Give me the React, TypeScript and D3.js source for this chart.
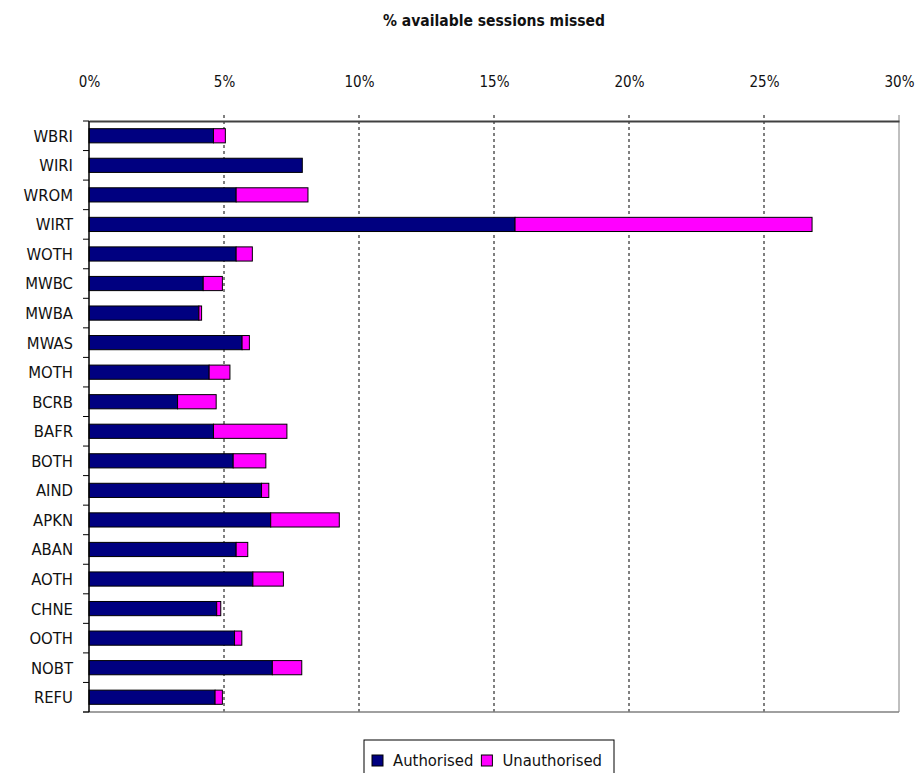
import React, { useEffect, useRef } from 'react';
import * as d3 from 'd3';

// ethnic group codes, top to bottom
const categories = [
  'WBRI', 'WIRI', 'WROM', 'WIRT', 'WOTH', 'MWBC', 'MWBA', 'MWAS', 'MOTH', 'BCRB',
  'BAFR', 'BOTH', 'AIND', 'APKN', 'ABAN', 'AOTH', 'CHNE', 'OOTH', 'NOBT', 'REFU',
];

// % of sessions missed
const authorised = [
  4.61, 7.9, 5.45, 15.78, 5.45, 4.23, 4.07, 5.67, 4.45, 3.28,
  4.61, 5.34, 6.39, 6.73, 5.45, 6.07, 4.73, 5.39, 6.79, 4.67,
];
const unauthorised = [
  0.44, 0.0, 2.66, 11.0, 0.6, 0.71, 0.1, 0.27, 0.77, 1.43,
  2.72, 1.21, 0.27, 2.54, 0.43, 1.13, 0.15, 0.27, 1.09, 0.27,
];

const xTicks = [0, 5, 10, 15, 20, 25, 30];
const seriesNames = ['Authorised', 'Unauthorised'];
const seriesColors = ['#000080', '#ff00ff'];

const W = 918;
const H = 773;
const margin = { top: 121, right: 19, bottom: 61, left: 89 };
const FONT = '"DejaVu Sans Condensed", "DejaVu Sans", sans-serif';

export default function App() {
  const svgRef = useRef<SVGSVGElement | null>(null);

  useEffect(() => {
    const svg = d3.select(svgRef.current);
    svg.selectAll('*').remove();

    const x = d3.scaleLinear().domain([0, 30]).range([margin.left, W - margin.right]);
    const y = d3.scaleBand().domain(categories).range([margin.top, H - margin.bottom]).paddingInner(0.52).paddingOuter(0.26);

    const rows = categories.map((c, i) => ({ c, a: authorised[i], u: unauthorised[i] }));
    const stack = d3.stack<any>().keys(['a', 'u'])(rows);

    svg.append('rect').attr('width', W).attr('height', H).attr('fill', '#fff');

    // title
    svg.append('text')
      .attr('x', (x(0) + x(30)) / 2).attr('y', 26)
      .attr('text-anchor', 'middle')
      .attr('font-family', FONT).attr('font-stretch', 'condensed')
      .attr('font-weight', 'bold').attr('font-size', 15.5)
      .attr('fill', '#111')
      .text('% available sessions missed');

    // vertical gridlines (poke a little above the axis)
    svg.append('g').selectAll('line')
      .data(xTicks.filter(t => t > 0 && t < 30))
      .join('line')
      .attr('x1', d => x(d)).attr('x2', d => x(d))
      .attr('y1', margin.top - 6).attr('y2', H - margin.bottom)
      .attr('stroke', '#000').attr('stroke-width', 1).attr('stroke-dasharray', '3,3');

    // right and bottom frame
    svg.append('line')
      .attr('x1', x(30)).attr('x2', x(30)).attr('y1', margin.top - 6).attr('y2', H - margin.bottom)
      .attr('stroke', '#808080');
    svg.append('line')
      .attr('x1', x(0) - 6).attr('x2', x(30)).attr('y1', H - margin.bottom).attr('y2', H - margin.bottom)
      .attr('stroke', '#808080').attr('stroke-width', 1.5);

    // bars
    svg.append('g').selectAll('g')
      .data(stack)
      .join('g')
      .attr('fill', (_d, i) => seriesColors[i])
      .selectAll('rect')
      .data(d => d.filter(s => s[1] - s[0] > 0))
      .join('rect')
      .attr('x', d => x(d[0]))
      .attr('width', d => x(d[1]) - x(d[0]))
      .attr('y', d => y(d.data.c) as number)
      .attr('height', y.bandwidth())
      .attr('stroke', '#000').attr('stroke-width', 1);

    // top axis
    const top = svg.append('g').attr('transform', `translate(0,${margin.top})`)
      .call(d3.axisTop(x).tickValues(xTicks).tickFormat(d => `${d}%`).tickSize(0).tickPadding(34));
    top.select('.domain').attr('stroke', '#404040').attr('stroke-width', 2);
    top.selectAll('text').attr('font-family', FONT).attr('font-stretch', 'condensed')
      .attr('font-size', 15).attr('fill', '#111');

    // left axis
    const step = y.step();
    const bounds = d3.range(categories.length + 1).map(i => margin.top + i * step);
    svg.append('line')
      .attr('x1', x(0)).attr('x2', x(0)).attr('y1', margin.top).attr('y2', H - margin.bottom)
      .attr('stroke', '#000').attr('stroke-width', 1.5);
    svg.append('g').selectAll('line')
      .data(bounds)
      .join('line')
      .attr('x1', x(0) - 6).attr('x2', x(0))
      .attr('y1', d => d).attr('y2', d => d)
      .attr('stroke', '#000');
    svg.append('g').selectAll('text')
      .data(categories)
      .join('text')
      .attr('x', x(0) - 16)
      .attr('y', d => (y(d) as number) + y.bandwidth() / 2)
      .attr('dy', '0.36em')
      .attr('text-anchor', 'end')
      .attr('font-family', FONT).attr('font-stretch', 'condensed')
      .attr('font-size', 16.5).attr('fill', '#111')
      .text(d => d);

    // legend
    const lg = svg.append('g').attr('transform', 'translate(364,740)');
    lg.append('rect').attr('width', 250).attr('height', 45).attr('fill', '#fff').attr('stroke', '#000');
    let lx = 8;
    seriesNames.forEach((n, i) => {
      lg.append('rect').attr('x', lx).attr('y', 15).attr('width', 11).attr('height', 11)
        .attr('fill', seriesColors[i]).attr('stroke', '#000');
      const t = lg.append('text').attr('x', lx + 21).attr('y', 26)
        .attr('font-family', FONT).attr('font-stretch', 'condensed')
        .attr('font-size', 16.5).attr('fill', '#111').text(n);
      const w = (t.node() as SVGTextElement).getComputedTextLength();
      lx += 21 + w + 8;
    });
  }, []);

  return (
    <svg ref={svgRef} width={W} height={H} style={{ position: 'absolute', left: 0, top: 0 }} />
  );
}
